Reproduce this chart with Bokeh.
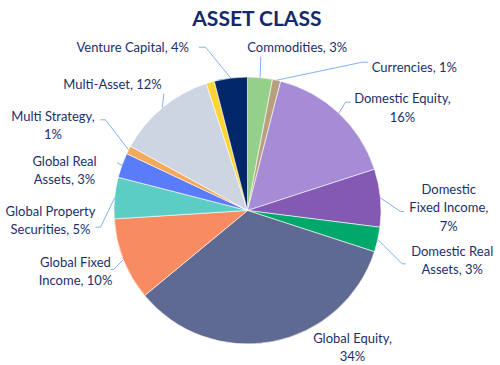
import math
from bokeh.plotting import figure
from bokeh.models import ColumnDataSource, Range1d
from bokeh.core.properties import value
from bokeh.embed import file_html
from bokeh.resources import INLINE

# ---- data ----
categories = ["Commodities", "Currencies", "Domestic Equity", "Domestic Fixed Income",
              "Domestic Real Assets", "Global Equity", "Global Fixed Income",
              "Global Property Securities", "Global Real Assets", "Multi Strategy",
              "Multi-Asset", "Other", "Venture Capital"]
values = [3, 1, 16, 7, 3, 34, 10, 5, 3, 1, 12, 1, 4]
show_label = [True, True, True, True, True, True, True, True, True, True, True, False, True]

# ---- styles ----
colors = ["#95d08a", "#b8a07e", "#a68bd5", "#8359b3", "#00a86c", "#5f6a93",
          "#f98b62", "#5bcdc5", "#5a7cfb", "#f4a95b", "#cdd4e2", "#fcd434", "#02276b"]
TEXT_COLOR = "#1b2f6d"
LEADER_COLOR = "#86b0f2"
FONT = "Lato"

# layout in page pixels: label centre, words per line, leader elbow, leader end (None = no leader)
layout = {
    "Commodities": ((296.7, 46.7), [2], (260.3, 56.0), (260.3, 56.0)),
    "Currencies": ((413.8, 66.7), [2], (361.7, 61.7), (367.7, 61.7)),
    "Domestic Equity": ((402.0, 107.0), [2, 1], (345.0, 101.7), (350.5, 101.7)),
    "Domestic Fixed Income": ((448.3, 207.0), [1, 2, 1], (400.0, 211.0), (403.5, 211.0)),
    "Domestic Real Assets": ((451.7, 259.5), [2, 2], (401.7, 263.3), (405.0, 263.3)),
    "Global Equity": ((352.0, 346.3), [2, 1], None, None),
    "Global Fixed Income": ((75.0, 270.5), [2, 2], (113.0, 269.0), (110.0, 269.0)),
    "Global Property Securities": ((50.0, 219.4), [2, 2], (100.0, 226.7), (95.0, 226.7)),
    "Global Real Assets": ((64.0, 169.2), [2, 2], (116.7, 162.3), (116.7, 162.3)),
    "Multi Strategy": ((52.5, 124.5), [2, 1], (105.0, 119.3), (100.0, 119.3)),
    "Multi-Asset": ((112.0, 83.3), [2], (163.3, 93.0), (163.3, 93.0)),
    "Venture Capital": ((132.2, 46.7), [3], (205.0, 46.7), (198.3, 46.7)),
}

PAGE_W, PAGE_H = 500, 365
def py(y):  # page pixel y -> data y
    return PAGE_H - y

CX, CY, R = 247.0, py(210.0), 133.5

p = figure(width=PAGE_W, height=PAGE_H, x_range=Range1d(0, PAGE_W), y_range=Range1d(0, PAGE_H),
           output_backend="svg", toolbar_location=None, min_border=0)
p.axis.visible = False
p.grid.visible = False
p.outline_line_color = None
p.background_fill_color = "white"

total = float(sum(values))
starts, ends, mids = [], [], []
cum = 0.0
for v in values:
    a0 = cum / total
    cum += v
    a1 = cum / total
    starts.append(math.pi / 2 - 2 * math.pi * a1)
    ends.append(math.pi / 2 - 2 * math.pi * a0)
    mids.append(math.pi / 2 - 2 * math.pi * (a0 + a1) / 2)

src = ColumnDataSource(dict(x=[CX] * len(values), y=[CY] * len(values),
                            start=starts, end=ends, color=colors, cat=categories, val=values))
p.wedge(x="x", y="y", radius=R, start_angle="start", end_angle="end",
        direction="anticlock", fill_color="color", line_color="white", line_width=0.6,
        source=src)

# labels + leaders
lx, ly, lt = [], [], []
xs, ys = [], []
for cat, v, show, m in zip(categories, values, show_label, mids):
    if not show:
        continue
    (tx, ty), wpl, elbow, end = layout[cat]
    words = f"{cat}, {v}%".split(" ")
    lines, i = [], 0
    for n in wpl:
        lines.append(" ".join(words[i:i + n]))
        i += n
    lx.append(tx)
    ly.append(py(ty))
    lt.append("\n".join(lines))
    if elbow is not None:
        ex, ey = CX + R * math.cos(m), CY + R * math.sin(m)
        xs.append([ex, elbow[0], end[0]])
        ys.append([ey, py(elbow[1]), py(end[1])])

p.multi_line(xs=xs, ys=ys, line_color=LEADER_COLOR, line_width=1)
p.text(x=lx, y=ly, text=lt, text_font=value(FONT), text_font_size="13px",
       text_color=TEXT_COLOR, text_align="center", text_baseline="middle",
       text_line_height=1.15)

p.text(x=[256.7], y=[py(17.0)], text=["ASSET CLASS"], text_font=value(FONT),
       text_font_size="21px", text_font_style="bold", text_color="#12296a",
       text_align="center", text_baseline="middle")

open("out.html", "w").write(file_html(p, INLINE))
